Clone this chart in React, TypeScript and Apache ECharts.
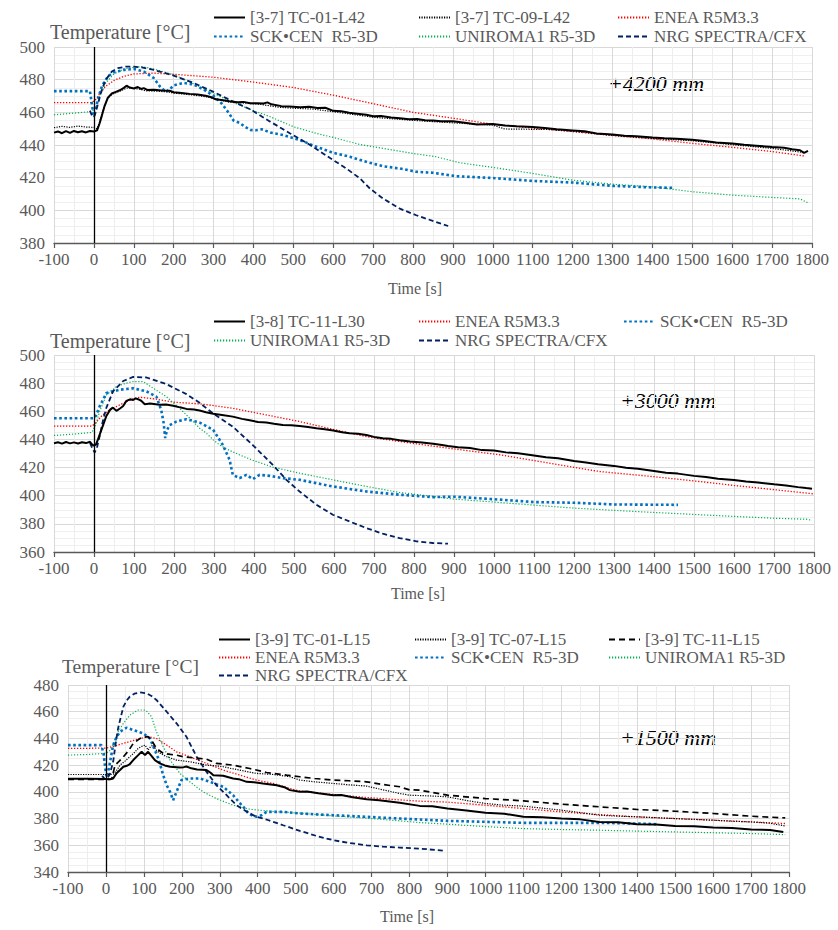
import React, { useEffect, useRef } from "react";
import * as echarts from "echarts";

type P = [number, number][];

// ---------- Panel 1 (+4200 mm) ----------
const p1_tc01: P = [[-100,447.6],[-90,448.3],[-80,447.2],[-70,448.5],[-60,447.4],[-50,448.6],[-40,447.8],[-30,448.4],[-20,447.7],[-10,448.6],[0,448.2],[8,449],[14,453],[20,458],[27,464],[35,469],[45,471.5],[55,472.5],[65,473.5],[75,475],[82,476.3],[90,475.2],[100,474.6],[110,475.5],[118,474.3],[125,474.8],[135,473.6],[150,473.8],[170,473.4],[190,473.2],[200,472.3],[220,471.8],[240,471.3],[260,470.9],[280,470.2],[295,469.2],[305,468],[320,467.6],[340,466.8],[360,466.2],[375,466.4],[392,465.6],[410,465.5],[425,465.4],[435,466.1],[445,464.9],[470,463.8],[490,463.6],[517,463.1],[540,463.4],[560,462.6],[580,462.8],[600,460.9],[620,460.6],[640,459.8],[660,459.2],[683,458.5],[700,457.6],[720,457.7],[745,456.9],[767,456.4],[790,455.8],[810,455.9],[830,455.1],[850,455],[870,454.6],[900,454.5],[930,453.6],[960,452.6],[1000,452.9],[1030,451.9],[1060,451.5],[1100,451],[1130,450.4],[1160,449.6],[1200,448.9],[1230,448.4],[1260,447.1],[1300,446.4],[1330,445.7],[1360,445.4],[1400,444.6],[1430,444.1],[1460,443.8],[1500,443.2],[1530,442.4],[1560,441.6],[1600,440.9],[1630,440.1],[1660,439.6],[1700,438.8],[1730,438.3],[1750,437.4],[1770,436.8],[1780,435.2],[1790,436.4]];
const p1_tc09: P = [[-100,450.6],[-80,451.4],[-60,450.8],[-40,451.6],[-20,451],[0,450.8],[8,450],[14,454],[20,459],[27,464.5],[35,468.5],[45,471],[60,472.5],[75,474],[85,475],[100,474.6],[115,474.2],[130,473.2],[150,473],[180,472.6],[200,471.8],[240,470.8],[280,469.6],[300,468.5],[340,466.2],[380,465.6],[420,464.8],[460,463.2],[500,462.5],[550,462],[600,460.4],[650,458.7],[700,457],[750,456],[800,455.1],[850,454.3],[900,453.6],[950,452.8],[1000,452.2],[1030,449.8],[1100,449.6],[1140,449.5],[1200,448.4],[1300,445.9],[1400,444],[1500,442.6],[1600,440.2],[1700,437.9],[1780,435.4]];
const p1_enea: P = [[-100,466],[-5,466],[5,468],[15,471.5],[30,476],[50,479.5],[75,482],[100,483.5],[150,484],[200,483.3],[300,481.5],[400,478.5],[500,475.2],[600,470.5],[700,465.3],[800,460],[900,456.4],[1000,452.7],[1100,450.3],[1200,448.2],[1300,445.8],[1400,443.7],[1500,441],[1600,438.6],[1700,436],[1780,433.3]];
const p1_sck: P = [[-100,473],[-10,473],[-5,465],[-1,458],[3,460],[10,468],[20,476],[35,482],[50,484.5],[75,486],[100,486.5],[125,485],[150,481],[165,476],[180,472.5],[190,474],[200,476.5],[225,478],[250,477],[275,474],[300,470],[320,465.5],[340,459],[350,455],[365,453.5],[380,451],[392,449.2],[405,449],[421,449.6],[442,447.7],[475,446.1],[517,443],[558,438.9],[600,435.2],[642,432.8],[683,429.7],[725,427],[767,425.6],[808,423.6],[850,423],[908,420.9],[1000,419.8],[1100,418],[1200,417],[1300,415],[1400,414],[1455,413.8]];
const p1_uni: P = [[-100,458.5],[-50,459.5],[-5,460.5],[5,463],[15,470],[30,478],[50,483.5],[75,486.5],[100,487.5],[120,488],[150,486.5],[200,483],[250,477.5],[300,471.5],[350,466],[392,461.8],[442,457.3],[500,451.2],[558,447.1],[600,444.6],[667,440.3],[725,437.9],[800,434.8],[858,432.8],[917,429.1],[1000,426.3],[1100,422.6],[1200,418.5],[1300,416],[1400,414.4],[1500,411.4],[1600,409.3],[1700,407.9],[1770,407],[1790,404.6]];
const p1_nrg: P = [[-10,461],[-3,457],[2,458],[10,465],[20,474],[30,480],[45,485],[60,487],[80,488],[100,488],[120,487.5],[150,486],[200,482.5],[250,478],[300,472.5],[350,466.5],[392,461.8],[442,454.3],[492,447.1],[542,440],[592,432],[633,425.6],[667,419.5],[692,413.3],[725,407.2],[767,401],[808,397],[858,392.8],[888,390.4]];

// ---------- Panel 2 (+3000 mm) ----------
const p2_tc11: P = [[-100,437.3],[-90,438],[-80,437],[-70,438.2],[-60,437.2],[-50,437.9],[-40,437.1],[-30,438],[-20,437.4],[-10,438.3],[-5,436.5],[0,435.5],[5,436.5],[10,440],[20,448],[31,456.7],[40,461],[47,462.6],[56,460.3],[65,462],[73,463.8],[81,467.4],[90,468.5],[98,468],[104,469.2],[110,468.6],[118,467.5],[127,465],[140,465.5],[164,464.6],[180,464.9],[198,464],[215,462.8],[231,461.7],[250,461.2],[264,460.5],[280,459.3],[298,458.3],[320,457.4],[347,456.2],[370,454.6],[389,453.6],[410,452.4],[431,452],[450,451.2],[472,450.3],[493,450.1],[514,449.5],[535,448.9],[556,447.9],[577,447.3],[598,446.3],[620,445.1],[639,444.4],[660,444],[681,443.2],[700,441.8],[722,440.9],[743,440.4],[764,439.4],[790,438.6],[820,437.8],[848,437],[870,436.1],[885,435.4],[910,434.5],[940,433.9],[970,432.4],[1000,432.2],[1030,430.8],[1060,430.1],[1100,428.6],[1130,427.3],[1160,426.6],[1200,424.6],[1230,423.6],[1260,422.4],[1300,421.2],[1330,419.8],[1360,419.1],[1400,417.6],[1430,416.3],[1460,415.7],[1500,414.1],[1530,413.3],[1560,412.1],[1600,411.2],[1630,410.1],[1660,409.4],[1700,408.1],[1730,407.3],[1760,406.1],[1780,405.4],[1795,405]];
const p2_enea: P = [[-100,449.5],[-5,449.5],[5,452],[20,457],[39,461],[73,465.7],[100,469],[114,470],[156,468.6],[198,466.5],[264,465.3],[300,464],[347,462.1],[431,457.4],[514,452.7],[597,447.2],[681,442],[764,438.5],[885,433.8],[1014,429.1],[1100,425],[1200,420.2],[1264,417.2],[1400,413.5],[1514,410.1],[1600,407.3],[1700,404.3],[1797,401.4]];
const p2_sck: P = [[-100,455],[0,455],[5,457],[14,463.4],[31,472.9],[64,475.3],[98,476.4],[131,474.1],[156,470.4],[168,461],[174,452],[178,441],[182,446],[188,450],[206,452.7],[231,454.4],[264,452],[298,446.8],[322,436.1],[339,425.5],[347,414.8],[364,412.5],[381,414.8],[397,411.8],[414,414.8],[439,414.1],[472,412.5],[514,411.3],[597,406.6],[681,403],[764,400.7],[847,399],[900,399.3],[1000,397.5],[1100,395.5],[1200,395],[1300,393.8],[1400,393.6],[1460,393.5]];
const p2_uni: P = [[-100,442.8],[-50,443.8],[-5,445],[5,451],[14,459.8],[31,471.6],[56,477.5],[80,480],[98,481.1],[123,481.1],[148,476.4],[181,470.4],[214,462.1],[248,452.7],[264,448],[281,444.4],[298,439.7],[314,436.1],[331,433.2],[364,429],[397,425.2],[447,420.3],[514,416],[597,411.3],[681,406.6],[764,402.3],[847,399.5],[900,397.6],[1000,395.5],[1100,393.3],[1200,391.2],[1300,389.6],[1400,388.1],[1500,386.7],[1600,385.3],[1700,384],[1780,383.3],[1795,382.5]];
const p2_nrg: P = [[-10,437.5],[-3,433],[2,430.7],[8,435],[14,442],[22,453],[31,462.6],[48,474.4],[73,481.5],[98,484.4],[131,484],[181,479.3],[231,472.2],[264,466],[297,458.6],[347,449.1],[397,436],[447,421.9],[481,411.3],[514,403],[556,393.6],[597,386.5],[639,381.7],[681,377],[722,373],[764,369.9],[806,367.6],[847,366.4],[885,365.9]];

// ---------- Panel 3 (+1500 mm) ----------
const p3_tc01: P = [[-100,409.8],[-50,409.8],[0,409.6],[10,409.4],[19,410],[28,414],[37,416.3],[46,418.8],[55,419.5],[62,420.5],[72,423.8],[85,427.5],[94,430],[103,427.5],[111,430],[120,427],[129,423.8],[142,421.3],[155,419.8],[169,418.8],[195,418.3],[205,418.5],[212,419],[225,417.6],[240,416.8],[265,416.3],[275,414.5],[283,412.5],[309,412],[335,410],[350,409.5],[371,407.5],[390,407.2],[414,406.3],[450,405],[470,403.5],[485,401.3],[511,400],[530,400.3],[560,399],[599,397.5],[620,397.6],[650,396],[687,394.5],[720,393.8],[774,391.8],[827,389.5],[860,389.2],[900,387.5],[950,386],[1000,384.3],[1050,383.6],[1100,381.3],[1150,381],[1200,380],[1250,379.4],[1300,377.5],[1350,377.2],[1400,375.8],[1450,375.6],[1500,374.5],[1550,374.2],[1600,373.3],[1650,373],[1700,371.8],[1750,371.5],[1785,370]];
const p3_tc07: P = [[-100,413],[-50,413],[0,413],[19,413.2],[28,416],[37,420],[50,423],[63,426.3],[75,429.5],[85,432.5],[94,434],[103,435],[111,431.3],[118,434],[125,435],[133,431],[145,428.5],[160,426.3],[186,423.8],[221,422.5],[240,421.5],[265,420],[290,419.5],[309,418.8],[330,417.5],[353,416.3],[375,415],[397,413.8],[441,413],[485,411.3],[511,408.8],[550,407.5],[599,406.3],[640,405.3],[687,404.3],[730,401.5],[774,398.8],[800,397.5],[850,397],[900,396.3],[950,393.5],[1000,391.3],[1050,390],[1100,389.3],[1150,387.8],[1200,386.3],[1250,384.5],[1300,382.5],[1350,381.8],[1400,381.3],[1450,380.6],[1500,380],[1550,379.4],[1600,378.8],[1650,378],[1700,377.5],[1750,376.5],[1790,374.5]];
const p3_tc11: P = [[-100,409.3],[-50,409.3],[0,409.3],[15,409.5],[24,420],[35,423],[46,426.3],[60,431],[72,436.3],[90,440],[100,441],[111,441.3],[120,438.8],[133,432.5],[151,428.8],[170,428],[186,427.5],[204,426.3],[230,425.5],[265,424.5],[291,421.3],[335,420],[379,417.5],[423,414.5],[476,412.5],[511,411.3],[550,410],[599,408.8],[640,408.3],[687,407.5],[730,405.5],[774,403.8],[800,401.5],[827,401.3],[900,397.5],[1000,395],[1100,393.3],[1200,390.8],[1300,388.8],[1400,386.8],[1500,385.5],[1600,383.8],[1700,381.8],[1790,380.5]];
const p3_enea: P = [[-100,432.5],[-50,432.6],[0,432.8],[20,434],[46,436.3],[70,438.3],[90,440],[111,441.3],[133,440],[160,435],[186,430],[221,426.3],[265,421.3],[309,416.3],[353,412.5],[397,408.8],[441,406.3],[485,402.5],[511,400.5],[599,398],[687,395.8],[774,394],[827,393],[900,392.3],[1000,390],[1100,387.5],[1200,385],[1300,383],[1400,381.3],[1500,380],[1600,378.8],[1700,377.5],[1790,376.3]];
const p3_sck: P = [[-100,435],[-12,435],[-6,428],[-2,418],[2,411],[8,418],[19,435],[28,441],[37,445],[54,448],[72,446.3],[98,443.8],[116,440],[125,433.8],[138,425],[151,412.5],[160,405],[169,400],[177,393.8],[186,400],[199,408.8],[221,410],[248,410],[274,407.5],[309,403.8],[335,397.5],[350,392.5],[362,388.8],[375,384],[388,382],[397,381.3],[410,382.5],[423,385],[467,385],[511,383.8],[599,382.5],[687,381.3],[774,380],[827,379.3],[900,378.3],[1100,376.8],[1300,376.8],[1400,376.3],[1450,375.8]];
const p3_uni: P = [[-100,427.5],[-50,428],[0,428.8],[10,431],[19,435],[32,445],[46,451.3],[63,457.5],[85,461.3],[100,461.3],[107,460.5],[120,456.3],[133,445],[151,433.8],[169,423.8],[195,413.8],[221,407.5],[256,400],[291,395],[335,390],[379,387],[432,385.5],[485,384.5],[511,384],[599,382],[687,380.3],[774,378.3],[827,377],[900,375.8],[1000,374],[1100,372.5],[1200,371.8],[1300,371.3],[1400,370.6],[1500,370],[1600,369.4],[1700,368.8],[1790,368]];
const p3_nrg: P = [[-10,412],[-3,409.5],[3,410],[10,413],[19,422.5],[25,435],[32,447.5],[40,457],[46,463.8],[55,468.5],[63,471.3],[75,473.5],[90,474.5],[107,473.8],[120,471.8],[133,468.8],[160,460],[186,451.3],[212,441.3],[239,426.3],[265,415],[291,405],[318,397.5],[344,390],[379,383.8],[397,381.3],[423,379.3],[467,375],[511,370.8],[555,367],[599,363.8],[640,361.8],[687,360],[730,359],[774,358.3],[827,357.5],[889,356]];

// axis ticks
const xTicks = { min: -100, max: 1800, interval: 100 };
const yRanges = [
  { min: 380, max: 500, interval: 20 },
  { min: 360, max: 500, interval: 20 },
  { min: 340, max: 480, interval: 20 },
];
const panelTitles = ["+4200 mm", "+3000 mm", "+1500 mm"];

const N = {
  tc01a: "[3-7] TC-01-L42",
  tc09a: "[3-7] TC-09-L42",
  tc11b: "[3-8] TC-11-L30",
  tc01c: "[3-9] TC-01-L15",
  tc07c: "[3-9] TC-07-L15",
  tc11c: "[3-9] TC-11-L15",
  enea: "ENEA R5M3.3",
  sck: "SCK•CEN  R5-3D",
  uni: "UNIROMA1 R5-3D",
  nrg: "NRG SPECTRA/CFX",
};

const FONT = "Liberation Serif";
const GREY = "#595959";

const ST: Record<string, any> = {
  solid: { color: "#000000", width: 2, type: "solid" },
  dotBlack: { color: "#000000", width: 1.2, type: [1.2, 1.3] },
  dashBlack: { color: "#000000", width: 1.7, type: [6, 4] },
  red: { color: "#ff0000", width: 1.3, type: [1.3, 1.7] },
  blue: { color: "#0070c0", width: 2.6, type: [2.6, 2.6] },
  green: { color: "#00b050", width: 1.2, type: [1.2, 1.8] },
  navy: { color: "#002060", width: 1.8, type: [5, 3] },
};

function line(name: string, data: P, idx: number, st: any, extra: any = {}) {
  return {
    type: "line",
    name,
    data,
    xAxisIndex: idx,
    yAxisIndex: idx,
    showSymbol: false,
    symbol: "none",
    silent: true,
    emphasis: { disabled: true },
    color: st.color,
    itemStyle: { color: st.color, opacity: 0 },
    lineStyle: { color: st.color, width: st.width, type: st.type, cap: "butt", opacity: 1 },
    ...extra,
  };
}

const zeroLine = {
  markLine: {
    silent: true,
    symbol: ["none", "none"],
    label: { show: false },
    lineStyle: { color: "#000", width: 1.3, type: "solid", opacity: 1 },
    data: [{ xAxis: 0 }],
  },
};

const labelRich = {
  t: { fontFamily: FONT, fontSize: 17, color: GREY },
};

export default function App() {
  const ref = useRef<HTMLDivElement>(null);
  useEffect(() => {
    if (!ref.current) return;
    const chart = echarts.init(ref.current, undefined, { renderer: "svg" });
    const grids = [
      { left: 54, top: 47, width: 758, height: 196 },
      { left: 54, top: 355, width: 760, height: 197 },
      { left: 68, top: 685, width: 721, height: 187 },
    ];
    const xAxis = grids.map((_, i) => ({
      type: "value",
      gridIndex: i,
      ...xTicks,
      axisLine: { show: true, lineStyle: { color: "#595959", width: 1.3 } },
      axisTick: { show: true, length: 5, lineStyle: { color: "#595959", width: 1.2 } },
      axisLabel: {
        color: GREY, fontFamily: FONT, fontSize: 17, margin: 8, hideOverlap: false,
        showMinLabel: true, showMaxLabel: true,
        formatter: (v: number) => `{t|${v}}`,
        rich: labelRich,
      },
      splitLine: { show: true, lineStyle: { color: "#d9d9d9", width: 1 } },
      minorTick: { show: true, splitNumber: 2, length: 0, lineStyle: { color: "rgba(0,0,0,0)" } },
      minorSplitLine: { show: true, lineStyle: { color: "#ededed", width: 1 } },
    }));
    const yAxis = grids.map((_, i) => ({
      type: "value",
      gridIndex: i,
      ...yRanges[i],
      axisLine: { show: false },
      axisTick: { show: false },
      axisLabel: {
        color: GREY, fontFamily: FONT, fontSize: 17, margin: 9,
        formatter: (v: number) => `{t|${v}}`,
        rich: labelRich,
      },
      splitLine: { show: true, lineStyle: { color: "#d9d9d9", width: 1 } },
      minorTick: { show: true, splitNumber: 4, length: 0, lineStyle: { color: "rgba(0,0,0,0)" } },
      minorSplitLine: { show: true, lineStyle: { color: "#efefef", width: 1 } },
    }));

    const series = [
      line(N.enea, p1_enea, 0, ST.red, zeroLine),
      line(N.uni, p1_uni, 0, ST.green),
      line(N.sck, p1_sck, 0, ST.blue),
      line(N.nrg, p1_nrg, 0, ST.navy),
      line(N.tc09a, p1_tc09, 0, ST.dotBlack),
      line(N.tc01a, p1_tc01, 0, ST.solid),

      line(N.enea, p2_enea, 1, ST.red, zeroLine),
      line(N.uni, p2_uni, 1, ST.green),
      line(N.sck, p2_sck, 1, ST.blue),
      line(N.nrg, p2_nrg, 1, ST.navy),
      line(N.tc11b, p2_tc11, 1, ST.solid),

      line(N.enea, p3_enea, 2, ST.red, zeroLine),
      line(N.uni, p3_uni, 2, ST.green),
      line(N.sck, p3_sck, 2, ST.blue),
      line(N.nrg, p3_nrg, 2, ST.navy),
      line(N.tc11c, p3_tc11, 2, ST.dashBlack),
      line(N.tc07c, p3_tc07, 2, ST.dotBlack),
      line(N.tc01c, p3_tc01, 2, ST.solid),
    ];

    const legendItems: [string, number, number][] = [
      [N.tc01a, 213, 18], [N.tc09a, 418, 18], [N.enea, 617, 18],
      [N.sck, 213, 37], [N.uni, 418, 37], [N.nrg, 617, 37],
      [N.tc11b, 213, 322], [N.enea, 418, 322], [N.sck, 623, 322],
      [N.uni, 213, 341], [N.nrg, 418, 341],
      [N.tc01c, 218, 640], [N.tc07c, 414, 640], [N.tc11c, 608, 640],
      [N.enea, 218, 658], [N.sck, 414, 658], [N.uni, 608, 658],
      [N.nrg, 218, 676],
    ];
    const legend = legendItems.map(([name, left, cy]) => ({
      data: [name],
      left,
      top: cy - 9,
      padding: 0,
      itemWidth: 31,
      itemHeight: 10,
      itemGap: 0,
      selectedMode: false,
      itemStyle: { opacity: 0 },
      textStyle: { color: GREY, fontFamily: FONT, fontSize: 17 },
    }));

    const txt = (text: string, x: number, y: number, size: number, opts: any = {}) => ({
      type: "text",
      x,
      y,
      silent: true,
      style: {
        text,
        fill: opts.fill || GREY,
        fontFamily: FONT,
        fontSize: size,
        fontStyle: opts.italic ? "italic" : "normal",
        textAlign: opts.align || "left",
        textVerticalAlign: "middle",
      },
    });

    const graphic = [
      txt("Temperature [°C]", 50, 32, 20),
      txt("Temperature [°C]", 50, 341, 20),
      txt("Temperature [°C]", 62, 666, 19.5),
      txt("Time [s]", 415, 288, 16, { align: "center" }),
      txt("Time [s]", 418, 593, 16, { align: "center" }),
      txt("Time [s]", 407, 916, 16, { align: "center" }),
      txt(panelTitles[0], 656, 83, 22, { italic: true, fill: "#000", align: "center" }),
      txt(panelTitles[1], 668, 400, 22, { italic: true, fill: "#000", align: "center" }),
      txt(panelTitles[2], 668, 737, 22, { italic: true, fill: "#000", align: "center" }),
    ];

    chart.setOption({
      animation: false,
      backgroundColor: "#ffffff",
      textStyle: { fontFamily: FONT },
      grid: grids,
      xAxis,
      yAxis,
      legend,
      series,
      graphic,
    });
    return () => chart.dispose();
  }, []);
  return (
    <div
      ref={ref}
      style={{ position: "absolute", left: 0, top: 0, width: 838, height: 930, background: "#fff" }}
    />
  );
}
